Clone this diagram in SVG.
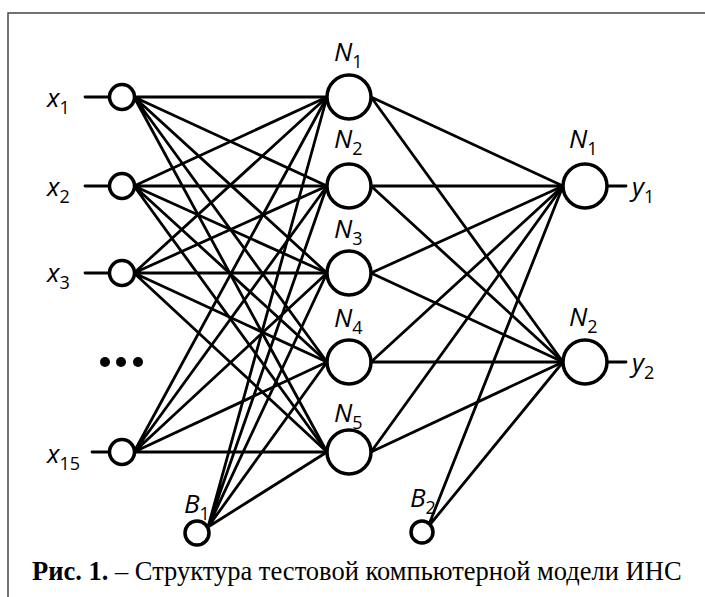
<svg xmlns="http://www.w3.org/2000/svg" width="705" height="597" viewBox="0 0 705 597">
  <style>
    .frame { fill: none; stroke: #444; stroke-width: 1.5; }
    .node { fill: #fff; stroke: #000; stroke-width: 3.5; }
    .edge { stroke: #000; stroke-width: 2.8; fill: none; stroke-linecap: round; }
    .lbl { font-family: "Open Sans", "Noto Sans", sans-serif; font-style: italic; font-size: 26px; fill: #000; }
    .sub { font-size: 18px; font-style: normal; }
    .cap { font-family: "Liberation Serif", "Times New Roman", serif; font-size: 26.5px; fill: #000; }
  </style>

  <!-- frame -->
  <path class="frame" d="M8 597 V13 H705"/>

  <!-- connectors -->
  <g id="connectors">
    <!-- input leads -->
    <line class="edge" x1="85" y1="97" x2="109" y2="97"/>
    <line class="edge" x1="85" y1="186" x2="109" y2="186"/>
    <line class="edge" x1="85" y1="273" x2="109" y2="273"/>
    <line class="edge" x1="92" y1="452" x2="109" y2="452"/>
    <!-- inputs to hidden layer -->
    <g id="in-hidden">
      <path class="edge" d="M134 97 L327 97 M134 97 L327 186 M134 97 L327 273 M134 97 L327 362 M134 97 L327 452"/>
      <path class="edge" d="M134 186 L327 97 M134 186 L327 186 M134 186 L327 273 M134 186 L327 362 M134 186 L327 452"/>
      <path class="edge" d="M134 273 L327 97 M134 273 L327 186 M134 273 L327 273 M134 273 L327 362 M134 273 L327 452"/>
      <path class="edge" d="M134 452 L327 97 M134 452 L327 186 M134 452 L327 273 M134 452 L327 362 M134 452 L327 452"/>
      <path class="edge" d="M208 527 L327 97 M208 527 L327 186 M208 527 L327 273 M208 527 L327 362 M208 527 L327 452"/>
    </g>
    <!-- hidden to output layer -->
    <g id="hidden-out">
      <path class="edge" d="M371 97 L563 186 M371 97 L563 362"/>
      <path class="edge" d="M371 186 L563 186 M371 186 L563 362"/>
      <path class="edge" d="M371 273 L563 186 M371 273 L563 362"/>
      <path class="edge" d="M371 362 L563 186 M371 362 L563 362"/>
      <path class="edge" d="M371 452 L563 186 M371 452 L563 362"/>
      <path class="edge" d="M428 527 L563 186 M428 527 L563 362"/>
    </g>
    <!-- output leads -->
    <line class="edge" x1="607" y1="186" x2="626" y2="186"/>
    <line class="edge" x1="607" y1="362" x2="626" y2="362"/>
  </g>

  <!-- input nodes -->
  <g id="x1"><circle class="node" cx="122" cy="97" r="12.5"/>
    <text class="lbl" x="47" y="107">x<tspan class="sub" dy="7">1</tspan></text></g>
  <g id="x2"><circle class="node" cx="122" cy="186" r="12.5"/>
    <text class="lbl" x="47" y="196">x<tspan class="sub" dy="7">2</tspan></text></g>
  <g id="x3"><circle class="node" cx="122" cy="273" r="12.5"/>
    <text class="lbl" x="47" y="282">x<tspan class="sub" dy="7">3</tspan></text></g>
  <g id="dots" fill="#000">
    <circle cx="105" cy="362" r="5"/><circle cx="121" cy="362" r="5"/><circle cx="138" cy="362" r="5"/>
  </g>
  <g id="x15"><circle class="node" cx="122" cy="452" r="12.5"/>
    <text class="lbl" x="47" y="463">x<tspan class="sub" dy="7">15</tspan></text></g>
  <g id="B1"><circle class="node" cx="197" cy="533" r="12"/>
    <text class="lbl" x="184" y="513">B<tspan class="sub" dy="7">1</tspan></text></g>

  <!-- hidden nodes -->
  <g id="h1"><circle class="node" cx="349" cy="97" r="22"/>
    <text class="lbl" x="334" y="61">N<tspan class="sub" dy="7">1</tspan></text></g>
  <g id="h2"><circle class="node" cx="349" cy="186" r="22"/>
    <text class="lbl" x="334" y="148">N<tspan class="sub" dy="7">2</tspan></text></g>
  <g id="h3"><circle class="node" cx="349" cy="273" r="22"/>
    <text class="lbl" x="334" y="238">N<tspan class="sub" dy="7">3</tspan></text></g>
  <g id="h4"><circle class="node" cx="349" cy="362" r="22"/>
    <text class="lbl" x="334" y="327">N<tspan class="sub" dy="7">4</tspan></text></g>
  <g id="h5"><circle class="node" cx="349" cy="452" r="22"/>
    <text class="lbl" x="334" y="422">N<tspan class="sub" dy="7">5</tspan></text></g>
  <g id="B2"><circle class="node" cx="422" cy="532" r="11"/>
    <text class="lbl" x="410" y="507">B<tspan class="sub" dy="7">2</tspan></text></g>

  <!-- output nodes -->
  <g id="o1"><circle class="node" cx="585" cy="186" r="22"/>
    <text class="lbl" x="569" y="148">N<tspan class="sub" dy="7">1</tspan></text>
    <text class="lbl" x="632" y="196">y<tspan class="sub" dy="7">1</tspan></text></g>
  <g id="o2"><circle class="node" cx="585" cy="362" r="22"/>
    <text class="lbl" x="569" y="326">N<tspan class="sub" dy="7">2</tspan></text>
    <text class="lbl" x="632" y="372">y<tspan class="sub" dy="7">2</tspan></text></g>

  <!-- caption -->
  <text class="cap" x="32" y="580"><tspan font-weight="bold">Рис. 1.</tspan> – Структура тестовой компьютерной модели ИНС</text>
</svg>
